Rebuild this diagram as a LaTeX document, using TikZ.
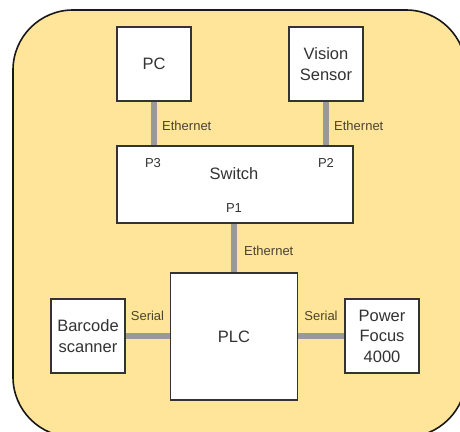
\documentclass[tikz,border=0pt]{standalone}
\usepackage{fontspec}
\setmainfont{Liberation Sans}
\definecolor{panel}{HTML}{FFE599}
\definecolor{wire}{HTML}{999999}
\definecolor{boxtext}{HTML}{333333}
\definecolor{wiretext}{HTML}{4A4430}
\begin{document}
\begin{tikzpicture}[x=1pt,y=-1pt,
  device/.style={draw=black!80, fill=white, line width=1.1pt, inner sep=0pt,
    align=center, text=boxtext, font=\fontsize{16.5}{20.5}\selectfont},
  link/.style={draw=wire, line width=5.5pt},
  wirelbl/.style={inner sep=0pt, text=wiretext, font=\fontsize{13}{15}\selectfont},
  portlbl/.style={inner sep=0pt, text=boxtext, font=\fontsize{13}{15}\selectfont}]
  \useasboundingbox (0,0) rectangle (460,431);
  \clip (0,0) rectangle (460,431);
  % panel
  \draw[fill=panel, draw=black!90, line width=1.6pt, rounded corners=60pt]
    (13,10) rectangle (466,437);
  % devices
  \node[device, minimum width=74pt, minimum height=74pt] (pc) at (154,64) {PC};
  \node[device, minimum width=74pt, minimum height=74pt] (vs) at (326,64) {Vision\\Sensor};
  \node[device, minimum width=236pt, minimum height=77pt] (sw) at (235,184.5) {};
  \node[device, minimum width=127pt, minimum height=127pt] (plc) at (234,336.5) {PLC};
  \node[device, minimum width=74pt, minimum height=74pt] (bc) at (88,336) {Barcode\\scanner};
  \node[device, minimum width=74pt, minimum height=74pt] (pf) at (382,336) {Power\\Focus\\4000};
  % switch text and ports
  \node[inner sep=0pt, text=boxtext, font=\fontsize{16.5}{20.5}\selectfont] (swname) at (234,174) {Switch};
  \node[portlbl] (p3) at (153,163) {P3};
  \node[portlbl] (p2) at (326,163) {P2};
  \node[portlbl] (p1) at (234,208) {P1};
  % links
  \draw[link] (pc.south) -- (pc.south |- sw.north);
  \draw[link] (vs.south) -- (vs.south |- sw.north);
  \draw[link] (plc.north) -- (plc.north |- sw.south);
  \draw[link] (bc.east) -- (plc.west |- bc.east);
  \draw[link] (pf.west) -- (plc.east |- pf.west);
  % link labels
  \node[wirelbl, anchor=west] (e1) at (162,126) {Ethernet};
  \node[wirelbl, anchor=west] (e2) at (334,126) {Ethernet};
  \node[wirelbl, anchor=west] (e3) at (244,251) {Ethernet};
  \node[wirelbl] (s1) at (147.5,316) {Serial};
  \node[wirelbl] (s2) at (321,316) {Serial};
\end{tikzpicture}
\end{document}
